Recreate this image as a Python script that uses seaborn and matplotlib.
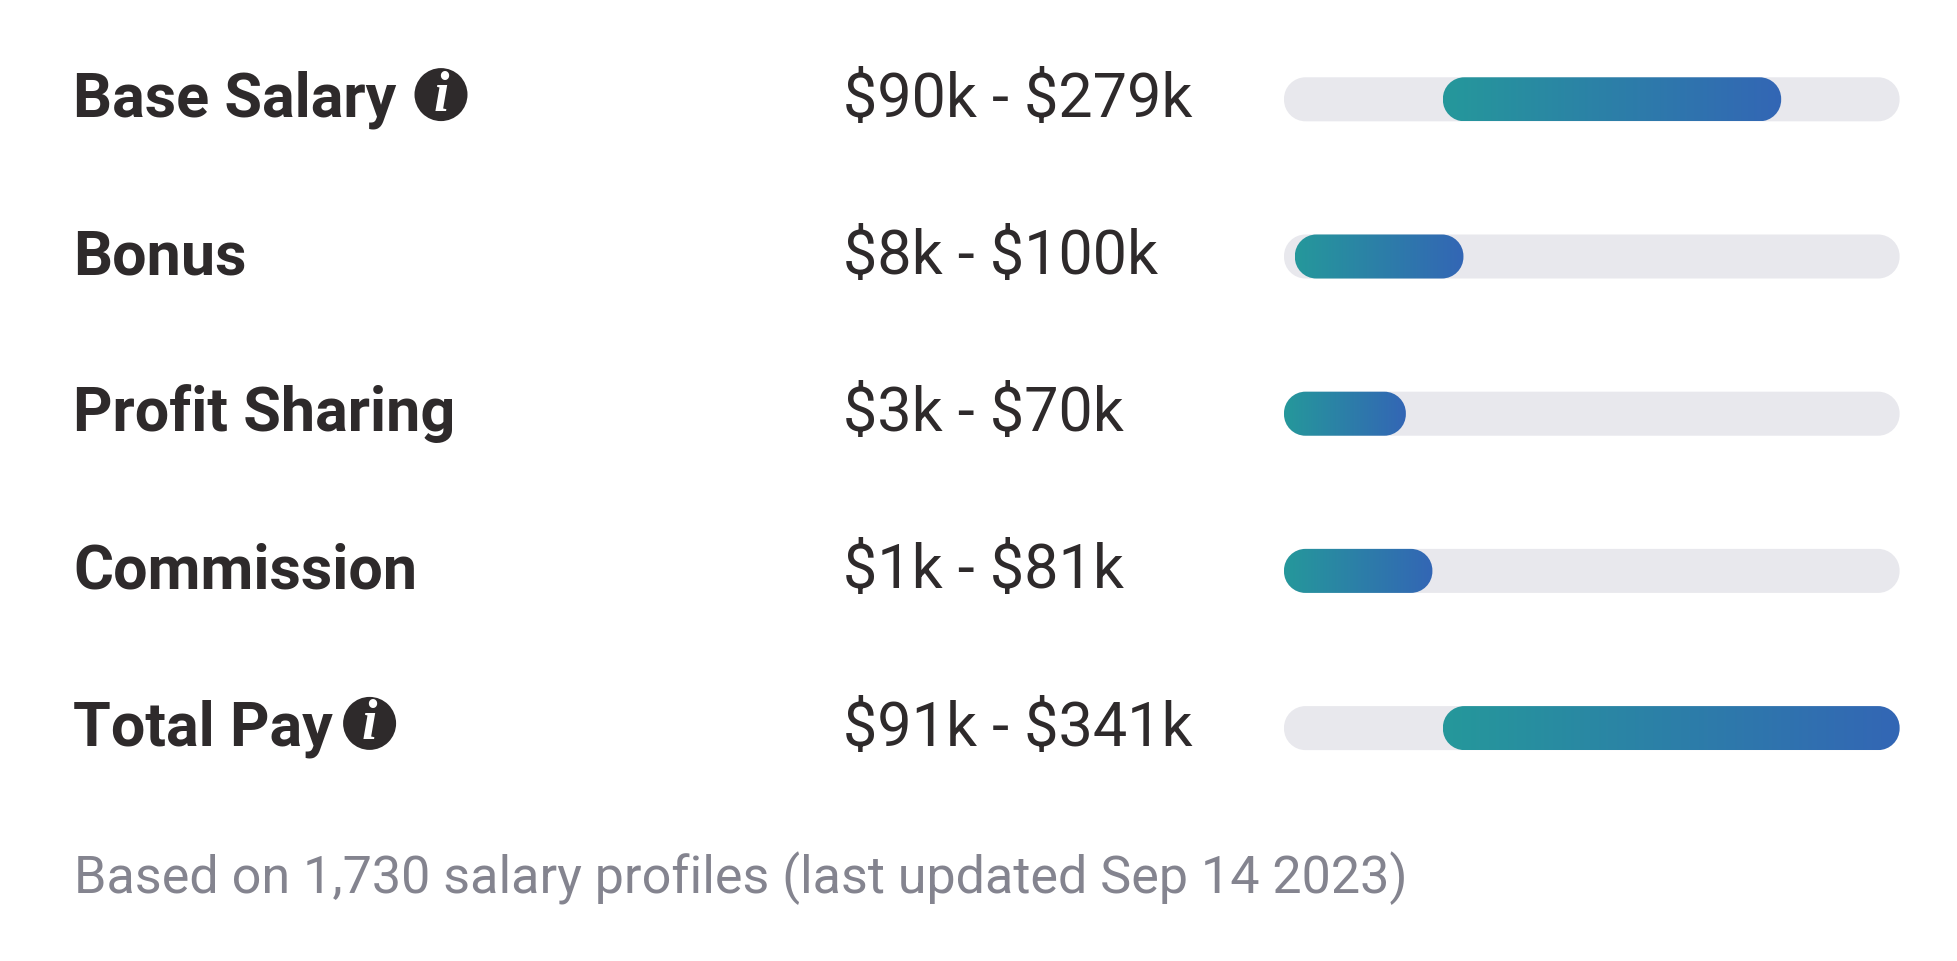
import numpy as np
import pandas as pd
import matplotlib
matplotlib.use("Agg")
import matplotlib.pyplot as plt
import seaborn as sns
from matplotlib.colors import LinearSegmentedColormap
from matplotlib.patches import PathPatch, Circle
from matplotlib.path import Path
from matplotlib.transforms import IdentityTransform

categories = ["Base Salary", "Bonus", "Profit Sharing", "Commission", "Total Pay"]
range_labels = ["$90k - $279k", "$8k - $100k", "$3k - $70k", "$1k - $81k", "$91k - $341k"]
bar_low_k = [88.0, 6.0, 0.0, 0.0, 88.0]
bar_high_k = [275.4, 99.4, 67.5, 82.2, 341.0]
track_max_k = [341.0, 341.0, 341.0, 341.0, 341.0]
info_icon_x = [441, None, None, None, 369.6]
footnote = "Based on 1,730 salary profiles (last updated Sep 14 2023)"

W, H = 1958, 962
DARK = "#2e2a2b"
GREY = "#84848f"
TRACK = "#e8e8ed"
grad = LinearSegmentedColormap.from_list("g", ["#25989b", "#3366b5"])

sns.set_theme(style="white")
plt.rcParams["font.family"] = ["Roboto", "DejaVu Sans"]
plt.rcParams["text.parse_math"] = False

fig = plt.figure(figsize=(W / 100, H / 100), dpi=100, facecolor="white")
ax_l, ax_r, ax_t, ax_b = 1284.0, 1899.6, 21.7, 807.7
ax = fig.add_axes([ax_l / W, 1 - ax_b / H, (ax_r - ax_l) / W, (ax_b - ax_t) / H])

df = pd.DataFrame({"cat": categories, "low": bar_low_k, "high": bar_high_k, "track": track_max_k})
df["span"] = df["high"] - df["low"]

sns.barplot(data=df, x="track", y="cat", color=TRACK, width=0.28, saturation=1, ax=ax, zorder=1)
n_track = len(ax.patches)
sns.barplot(data=df, x="span", y="cat", left=df["low"].values, color="#25989b", width=0.28,
            saturation=1, ax=ax, zorder=2)
ax.set_xlim(0, 341)
ax.set_ylim(4.5, -0.5)
ax.axis("off")
fig.canvas.draw()

ident = IdentityTransform()
RAD = 21.5
K = 0.5523 * RAD


def pill_path(x, y, w, h):
    r, k = RAD, K
    x1, y1 = x + w, y + h
    verts = [
        (x + r, y), (x1 - r, y),
        (x1 - r + k, y), (x1, y + r - k), (x1, y + r),
        (x1, y1 - r),
        (x1, y1 - r + k), (x1 - r + k, y1), (x1 - r, y1),
        (x + r, y1),
        (x + r - k, y1), (x, y1 - r + k), (x, y1 - r),
        (x, y + r),
        (x, y + r - k), (x + r - k, y), (x + r, y),
        (x + r, y),
    ]
    codes = [Path.MOVETO, Path.LINETO, Path.CURVE4, Path.CURVE4, Path.CURVE4, Path.LINETO,
             Path.CURVE4, Path.CURVE4, Path.CURVE4, Path.LINETO,
             Path.CURVE4, Path.CURVE4, Path.CURVE4, Path.LINETO,
             Path.CURVE4, Path.CURVE4, Path.CURVE4, Path.CLOSEPOLY]
    return Path(verts, codes)


def to_px(rect):
    (x0, y0), (x1, y1) = ax.transData.transform(
        [(rect.get_x(), rect.get_y()), (rect.get_x() + rect.get_width(), rect.get_y() + rect.get_height())])
    return min(x0, x1), min(y0, y1), abs(x1 - x0), abs(y1 - y0)


rects = list(ax.patches)
for i, r in enumerate(rects):
    x, y, w, h = to_px(r)
    is_track = i < n_track
    r.set_visible(False)
    pill = PathPatch(pill_path(x, y, w, h), transform=ident, linewidth=0,
                     facecolor=TRACK if is_track else "none", zorder=1 if is_track else 2)
    ax.add_patch(pill)
    if not is_track:
        im = ax.imshow(np.linspace(0, 1, 256)[None, :], cmap=grad, aspect="auto", interpolation="bilinear",
                       extent=(r.get_x(), r.get_x() + r.get_width(), r.get_y() + r.get_height(), r.get_y()),
                       zorder=3)
        im.set_clip_path(pill)
ax.set_xlim(0, 341)
ax.set_ylim(4.5, -0.5)
fig.canvas.draw()

for i, (cat, rng) in enumerate(zip(categories, range_labels)):
    yc = H - ax.transData.transform((0, i))[1]
    base = yc + 16.6
    fig.text(73, H - base, cat, transform=ident, va="baseline", fontsize=44, fontweight="bold", color=DARK)
    fig.text(843, H - base, rng, transform=ident, va="baseline", fontsize=44, color=DARK)
    if info_icon_x[i] is not None:
        cx = info_icon_x[i]
        cy = H - (yc - 4.7)
        fig.add_artist(Circle((cx, cy), 26.5, transform=ident, facecolor=DARK, edgecolor="none"))
        fig.text(cx, cy - 1, "i", transform=ident, ha="center", va="center", fontsize=40,
                 fontweight="bold", fontstyle="italic", family="Liberation Serif", color="white")

fig.text(74, H - 893, footnote, transform=ident, va="baseline", fontsize=37.55, color=GREY)
fig.savefig("out.png", dpi=100, facecolor="white")
